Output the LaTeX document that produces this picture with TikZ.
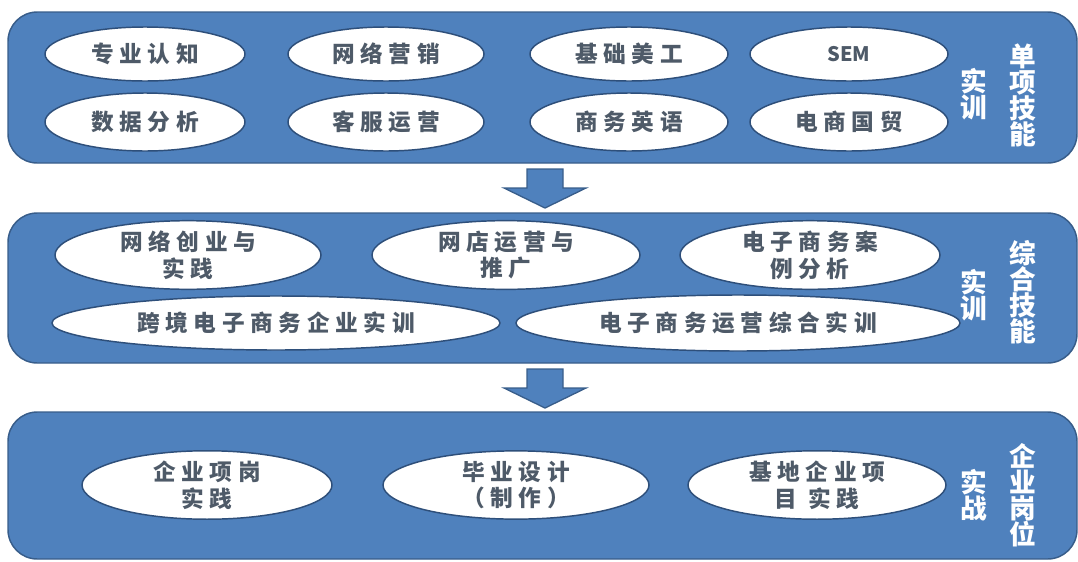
\documentclass[tikz,border=0pt]{standalone}
\usepackage{fontspec}
\setmainfont{Noto Sans CJK SC}
\newfontfamily\ellfont[LetterSpace=25]{Noto Sans CJK SC}
\newfontfamily\lblfont{Noto Sans CJK SC}
\usetikzlibrary{shapes.geometric}
\definecolor{pfill}{HTML}{4F81BD}
\definecolor{pdraw}{HTML}{385D8A}
\definecolor{edraw}{HTML}{2E4F7A}
\definecolor{etext}{HTML}{4E5A68}
\tikzset{
  panel/.style={draw=pdraw, line width=1.1pt, fill=pfill, rounded corners=22pt, inner sep=0pt},
  ell/.style 2 args={ellipse, draw=edraw, line width=1.1pt, fill=white, inner sep=0pt,
    minimum width=1.5pt*#1, minimum height=1.5pt*#2, text=etext, align=center,
    font=\ellfont\bfseries\fontsize{17}{20}\selectfont},
  lbl/.style={text=white, align=center, inner sep=0pt,
    font=\lblfont\bfseries\fontsize{20}{19.5}\selectfont},
  barrow/.style={draw=pdraw, line width=1pt, fill=pfill, line join=miter}
}
\begin{document}
\begin{tikzpicture}[x=0.75pt,y=-0.75pt]
\useasboundingbox (0,0) rectangle (1078,561);
% panels
\node[panel, minimum width=801.75pt, minimum height=113.25pt] (p1) at (542.5,87.5) {};
\node[panel, minimum width=801.75pt, minimum height=112.5pt] (p2) at (542.5,288) {};
\node[panel, minimum width=801.75pt, minimum height=110.25pt] (p3) at (542.5,485.5) {};
% block arrows
\draw[barrow] (527,169) -- (563,169) -- (563,188) -- (586,188) -- (545,208) -- (504,188) -- (527,188) -- cycle;
\draw[barrow] (527,369) -- (563,369) -- (563,388) -- (586,388) -- (545,408) -- (504,388) -- (527,388) -- cycle;
% panel 1
\node[ell={100}{27}] (a1) at (145,54) {专业认知};
\node[ell={98}{27}] (a2) at (386,54) {网络营销};
\node[ell={99}{27}] (a3) at (629,54) {基础美工};
\node[ell={99}{27}, font=\lblfont\bfseries\fontsize{15}{18}\selectfont] (a4) at (849,54) {SEM};
\node[ell={100}{29}] (a5) at (145,122) {数据分析};
\node[ell={98}{29}] (a6) at (386,122) {客服运营};
\node[ell={99}{29}] (a7) at (629,122) {商务英语};
\node[ell={99}{29}] (a8) at (849,122) {电商国贸};
\node[lbl] (l1a) at (974,94) {实\\训};
\node[lbl] (l1b) at (1023,95) {单\\项\\技\\能};
% panel 2
\node[ell={133}{28}] (b1) at (188,255) {网络创业与\\实践};
\node[ell={134}{28}] (b2) at (506,255) {网店运营与\\推广};
\node[ell={130}{28}] (b3) at (810,255) {电子商务案\\例分析};
\node[ell={224}{27}] (b4) at (276,323) {跨境电子商务企业实训};
\node[ell={222}{28}] (b5) at (738,323) {电子商务运营综合实训};
\node[lbl] (l2a) at (974,295) {实\\训};
\node[lbl] (l2b) at (1023,292) {综\\合\\技\\能};
% panel 3
\node[ell={125}{30}] (c1) at (207,485) {企业项岗\\实践};
\node[ell={133}{30}] (c2) at (516,485) {毕业设计\\（制作）};
\node[ell={129}{30}] (c3) at (817,485) {基地企业项\\目 实践};
\node[lbl] (l3a) at (974,495) {实\\战};
\node[lbl] (l3b) at (1023,495) {企\\业\\岗\\位};
\end{tikzpicture}
\end{document}
